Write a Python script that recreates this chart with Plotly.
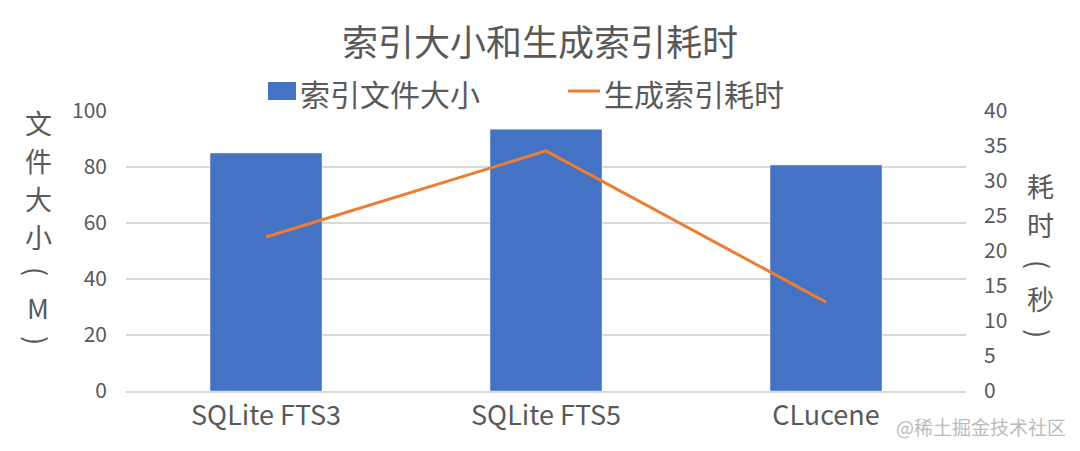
import plotly.graph_objects as go

categories = ["SQLite FTS3", "SQLite FTS5", "CLucene"]
index_size = [85, 93.5, 80.7]
build_time = [22.0, 34.3, 12.7]
left_ticks = [0, 20, 40, 60, 80, 100]
right_ticks = [0, 5, 10, 15, 20, 25, 30, 35, 40]
title_text = "索引大小和生成索引耗时"
bar_name = "索引文件大小"
line_name = "生成索引耗时"
left_title_chars = ["文", "件", "大", "小", "(", "M", ")"]
right_title_chars = ["耗", "时", "(", "秒", ")"]
watermark = "@稀土掘金技术社区"

FONT = "Noto Sans CJK SC, Noto Sans, sans-serif"
GREY = "#595959"
BLUE = "#4472C4"
ORANGE = "#ED7D31"

# page pixel -> paper coordinate helpers (plot area spans x 126..966, y 111..391 on page)
PX0, PX1, PY0, PY1 = 126, 966, 111, 391
def px(x):
    return (x - PX0) / (PX1 - PX0)
def py(y):
    return (PY1 - y) / (PY1 - PY0)

fig = go.Figure()
fig.add_trace(go.Bar(x=categories, y=index_size, name=bar_name,
                     marker_color=BLUE, width=0.4, yaxis="y", showlegend=False))
fig.add_trace(go.Scatter(x=categories, y=build_time, name=line_name,
                         mode="lines", line=dict(color=ORANGE, width=3), yaxis="y2",
                         showlegend=False))

# body has an 8px default margin: figure occupies page x 8..1070, y 8..441
fig.update_layout(
    width=1062, height=433,
    margin=dict(l=PX0 - 8, r=1070 - PX1, t=PY0 - 8, b=441 - PY1, autoexpand=False),
    paper_bgcolor="white", plot_bgcolor="white",
    font=dict(family=FONT, color=GREY),
    xaxis=dict(showgrid=False, tickfont=dict(size=27, color=GREY), showline=True,
               linecolor="#D9D9D9", linewidth=1.5, ticks="", automargin=False),
    yaxis=dict(range=[0, 100], tickvals=left_ticks, showgrid=True, gridcolor="#D9D9D9",
               gridwidth=1.5, zeroline=False, tickfont=dict(size=21, color=GREY),
               ticklabelstandoff=18, automargin=False),
    yaxis2=dict(range=[0, 40], tickvals=right_ticks, overlaying="y", side="right",
                showgrid=False, zeroline=False, tickfont=dict(size=21, color=GREY),
                ticklabelstandoff=17, automargin=False),
    showlegend=False,
)

# title
fig.add_annotation(text=title_text, xref="paper", yref="paper", x=px(540), y=py(40),
                   xanchor="center", yanchor="middle", showarrow=False,
                   font=dict(size=36, color=GREY, family=FONT))

# custom legend
fig.add_shape(type="rect", xref="paper", yref="paper", x0=px(268), x1=px(296),
              y0=py(100), y1=py(82), fillcolor=BLUE, line=dict(width=0))
fig.add_annotation(text=bar_name, xref="paper", yref="paper", x=px(298), y=py(93),
                   xanchor="left", yanchor="middle", showarrow=False,
                   font=dict(size=30, color=GREY, family=FONT))
fig.add_shape(type="line", xref="paper", yref="paper", x0=px(568), x1=px(600),
              y0=py(91), y1=py(91), line=dict(color=ORANGE, width=3))
fig.add_annotation(text=line_name, xref="paper", yref="paper", x=px(602), y=py(93),
                   xanchor="left", yanchor="middle", showarrow=False,
                   font=dict(size=30, color=GREY, family=FONT))

# vertical axis titles (parentheses rotated like vertical CJK text)
def add_vchars(chars, ys, xpix):
    for ch, yy in zip(chars, ys):
        rot = 90 if ch in "()" else 0
        fig.add_annotation(text=ch, xref="paper", yref="paper", x=px(xpix), y=py(yy),
                           xanchor="center", yanchor="middle", showarrow=False,
                           textangle=rot,
                           font=dict(size=27, color=GREY, family=FONT))

add_vchars(left_title_chars, [122, 160, 198, 236, 271, 307, 340], 38)
add_vchars(right_title_chars, [185, 224, 264, 298, 333], 1040)

fig.add_annotation(text=watermark, xref="paper", yref="paper", x=px(1068), y=py(426),
                   xanchor="right", yanchor="middle", showarrow=False,
                   font=dict(size=19, color="#BBBBBB", family=FONT))

fig.write_html("out.html")
